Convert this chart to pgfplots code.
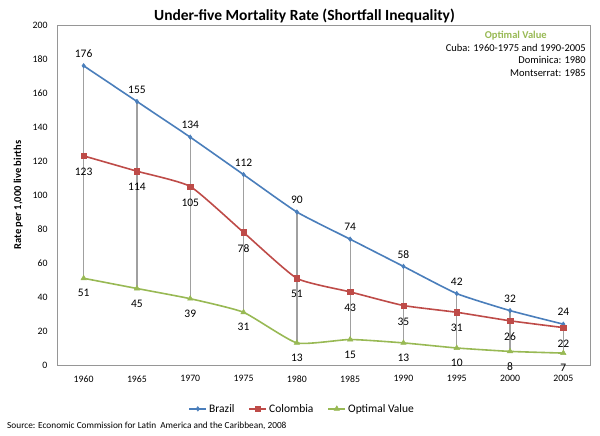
\documentclass[border=0pt]{standalone}
\usepackage{pgfplots}
\pgfplotsset{compat=1.18}
\usepackage{pgfplotstable}
\usepackage{fontspec}
\setmainfont{Carlito}
\definecolor{cBr}{RGB}{74,126,187}
\definecolor{cCo}{RGB}{190,75,72}
\definecolor{cOp}{RGB}{152,185,84}
\definecolor{cGr}{RGB}{150,150,150}
\definecolor{cDr}{RGB}{160,160,160}
\pgfplotstableread{
x year B C O
0 1960 176 123 51
1 1965 155 114 45
2 1970 134 105 39
3 1975 112 78 31
4 1980 90 51 13
5 1985 74 43 15
6 1990 58 35 13
7 1995 42 31 10
8 2000 32 26 8
9 2005 24 22 7
}\data
\begin{document}
\begin{tikzpicture}
\begin{axis}[
  scale only axis, width=533pt, height=340pt,
  xmin=-0.5, xmax=9.5, ymin=0, ymax=200,
  xtick={0,...,9},
  xticklabels={1960,1965,1970,1975,1980,1985,1990,1995,2000,2005},
  ytick={0,20,...,200},
  tick style={draw=none},
  axis line style={cGr},
  /pgf/number format/assume math mode=true,
  ticklabel style={font=\fontsize{9.8}{11}\selectfont},
  xticklabel style={yshift=-7pt},
  yticklabel style={xshift=-6pt},
  ylabel={\bfseries Rate per 1,000 live births},
  ylabel style={font=\fontsize{10.5}{12}\selectfont, yshift=3pt},
  legend style={at={(0.46,-0.129)}, anchor=center, draw=none, legend columns=3,
    font=\fontsize{11.5}{13}\selectfont, /tikz/every even column/.append style={column sep=12pt}},
  legend cell align=left,
  legend image post style={line width=1.6pt, sharp plot},
  nodes near coords,
  every node near coord/.append style={font=\fontsize{11.5}{13}\selectfont, text=black},
]
\addplot[forget plot, draw=none, mark=none, nodes near coords={},
  error bars/.cd, y dir=minus, y explicit, error mark=none,
  error bar style={cDr, line width=1.3pt}]
  table[x=x, y=B, y error minus expr=\thisrow{B}-\thisrow{O}] {\data};
\addplot[cBr, line width=1.6pt, smooth, tension=0.3, mark=diamond*, mark size=2.3pt, mark options={fill=cBr, line width=0.5pt},
  every node near coord/.append style={anchor=center, yshift=12pt}]
  table[x=x, y=B] {\data};
\addlegendentry{Brazil}
\addplot[cCo, line width=1.6pt, smooth, tension=0.3, mark=square*, mark size=2.7pt, mark options={fill=cCo, line width=0.5pt},
  every node near coord/.append style={anchor=center, yshift=-16pt}]
  table[x=x, y=C] {\data};
\addlegendentry{Colombia}
\addplot[cOp, line width=1.6pt, smooth, tension=0.3, mark=triangle*, mark size=3.1pt, mark options={fill=cOp, line width=0.5pt},
  every node near coord/.append style={anchor=center, yshift=-15pt}]
  table[x=x, y=O] {\data};
\addlegendentry{Optimal Value}
\node[anchor=north east, inner sep=0pt, font=\fontsize{10.5}{12.5}\selectfont]
  at ([xshift=-4pt, yshift=-5pt]rel axis cs:1,1)
  {\begin{tabular}{@{}r@{}}
   \multicolumn{1}{@{}c@{}}{\color{cOp}\bfseries Optimal Value\hspace{8pt}}\\
   Cuba: 1960-1975 and 1990-2005\\Dominica: 1980\\Montserrat: 1985
   \end{tabular}};
\end{axis}
\node[font=\fontsize{15.5}{18}\selectfont\bfseries, anchor=base] at ([xshift=-19pt,yshift=4.5pt]current axis.north) {Under-five Mortality Rate (Shortfall Inequality)};
\node[font=\fontsize{9.3}{11}\selectfont, anchor=west, inner sep=0pt] at ([xshift=-50pt, yshift=-61pt]current axis.south west) {Source: Economic Commission for Latin\ \ America and the Caribbean, 2008};
\path[use as bounding box] ([xshift=-57pt,yshift=-71pt]current axis.south west) rectangle ([xshift=10pt,yshift=25pt]current axis.north east);
\end{tikzpicture}
\end{document}
